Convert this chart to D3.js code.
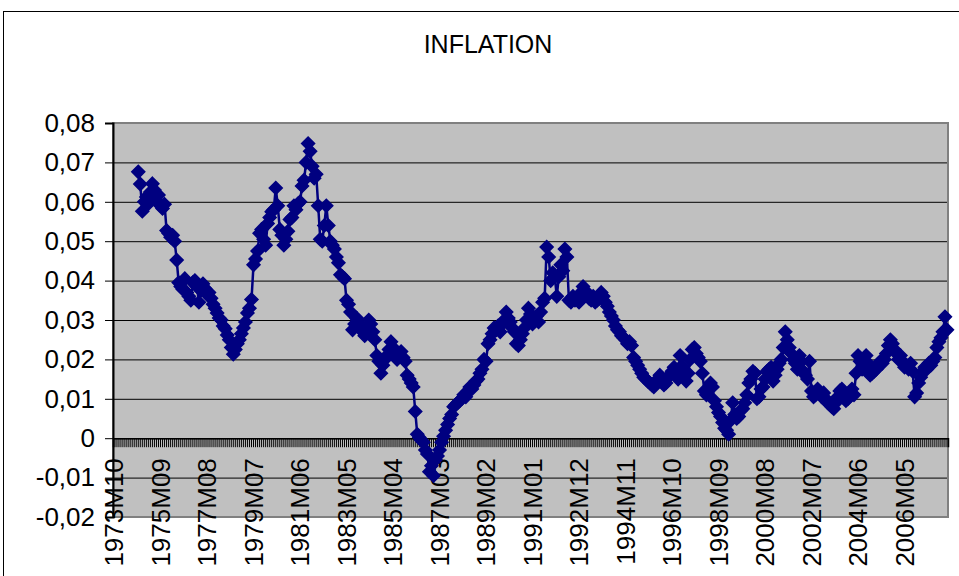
<!DOCTYPE html>
<html>
<head>
<meta charset="utf-8">
<script src="https://cdn.jsdelivr.net/npm/d3@7"></script>
<style>
  html, body { margin: 0; padding: 0; background: #ffffff; }
  svg { display: block; }
  text { font-family: Arial, "Liberation Sans", sans-serif; }
</style>
</head>
<body>
<svg id="chart" width="959" height="576"></svg>
<script>
// ---- data ----
const chartTitle = "INFLATION";
const firstCategory = { year: 1973, month: 10 };
const categoryCount = 413;          // 1973M10 .. 2008M02
const firstDataIndex = 12;          // series starts at 1974M10
const labelEvery = 23;
const yTicks = [-0.02, -0.01, 0, 0.01, 0.02, 0.03, 0.04, 0.05, 0.06, 0.07, 0.08];

const inflation = [
  // 1974 (Oct-Dec)
  0.0676, 0.0645, 0.0576,
  // 1975
  0.0600, 0.0612, 0.0595, 0.0625, 0.0646, 0.0630, 0.0604, 0.0617, 0.0590, 0.0583, 0.0594, 0.0527,
  // 1976
  0.0520, 0.0510, 0.0515, 0.0500, 0.0452, 0.0395, 0.0385, 0.0378, 0.0405, 0.0370, 0.0360, 0.0350,
  // 1977
  0.0395, 0.0400, 0.0385, 0.0345, 0.0375, 0.0392, 0.0380, 0.0365, 0.0370, 0.0355, 0.0340, 0.0330,
  // 1978
  0.0318, 0.0305, 0.0300, 0.0285, 0.0278, 0.0262, 0.0250, 0.0230, 0.0213, 0.0225, 0.0240, 0.0250,
  // 1979
  0.0265, 0.0280, 0.0295, 0.0318, 0.0330, 0.0352, 0.0440, 0.0455, 0.0475, 0.0520, 0.0530, 0.0505,
  // 1980
  0.0490, 0.0545, 0.0560, 0.0575, 0.0580, 0.0635, 0.0590, 0.0530, 0.0515, 0.0490, 0.0505, 0.0525,
  // 1981
  0.0555, 0.0560, 0.0590, 0.0580, 0.0595, 0.0600, 0.0640, 0.0655, 0.0700, 0.0748, 0.0728, 0.0690,
  // 1982
  0.0660, 0.0670, 0.0590, 0.0505, 0.0500, 0.0540, 0.0590, 0.0540, 0.0500, 0.0490, 0.0480, 0.0460,
  // 1983
  0.0445, 0.0415, 0.0410, 0.0405, 0.0350, 0.0340, 0.0320, 0.0275, 0.0290, 0.0305, 0.0290, 0.0285,
  // 1984
  0.0270, 0.0260, 0.0280, 0.0300, 0.0290, 0.0270, 0.0250, 0.0210, 0.0195, 0.0165, 0.0185, 0.0200,
  // 1985
  0.0210, 0.0225, 0.0245, 0.0230, 0.0215, 0.0200, 0.0210, 0.0220, 0.0205, 0.0195, 0.0160, 0.0150,
  // 1986
  0.0140, 0.0130, 0.0068, 0.0010, 0.0002, -0.0005, -0.0010, -0.0030, -0.0040, -0.0085, -0.0070, -0.0095,
  // 1987
  -0.0055, -0.0045, -0.0030, -0.0010, 0.0005, 0.0020, 0.0035, 0.0050, 0.0060, 0.0080, 0.0085, 0.0090,
  // 1988
  0.0095, 0.0100, 0.0110, 0.0105, 0.0120, 0.0130, 0.0125, 0.0135, 0.0145, 0.0150, 0.0165, 0.0175,
  // 1989
  0.0200, 0.0195, 0.0240, 0.0250, 0.0265, 0.0280, 0.0275, 0.0285, 0.0270, 0.0290, 0.0300, 0.0320,
  // 1990
  0.0305, 0.0295, 0.0280, 0.0270, 0.0240, 0.0235, 0.0250, 0.0265, 0.0280, 0.0300, 0.0330, 0.0315,
  // 1991
  0.0290, 0.0300, 0.0310, 0.0295, 0.0320, 0.0345, 0.0355, 0.0485, 0.0460, 0.0400, 0.0420, 0.0410,
  // 1992
  0.0360, 0.0410, 0.0440, 0.0425, 0.0480, 0.0460, 0.0350, 0.0345, 0.0360, 0.0350, 0.0355, 0.0345,
  // 1993
  0.0370, 0.0385, 0.0375, 0.0365, 0.0355, 0.0350, 0.0360, 0.0345, 0.0350, 0.0355, 0.0370, 0.0360,
  // 1994
  0.0345, 0.0335, 0.0320, 0.0310, 0.0300, 0.0285, 0.0275, 0.0270, 0.0260, 0.0255, 0.0250, 0.0240,
  // 1995
  0.0245, 0.0235, 0.0205, 0.0195, 0.0185, 0.0175, 0.0165, 0.0155, 0.0150, 0.0145, 0.0140, 0.0135,
  // 1996
  0.0130, 0.0140, 0.0150, 0.0160, 0.0145, 0.0135, 0.0140, 0.0155, 0.0160, 0.0170, 0.0180, 0.0165,
  // 1997
  0.0150, 0.0210, 0.0185, 0.0170, 0.0145, 0.0165, 0.0200, 0.0225, 0.0230, 0.0215, 0.0205, 0.0195,
  // 1998
  0.0165, 0.0120, 0.0110, 0.0125, 0.0140, 0.0130, 0.0095, 0.0080, 0.0065, 0.0055, 0.0040, 0.0025,
  // 1999
  0.0020, 0.0010, 0.0045, 0.0090, 0.0060, 0.0050, 0.0055, 0.0070, 0.0075, 0.0090, 0.0110, 0.0140,
  // 2000
  0.0150, 0.0170, 0.0165, 0.0100, 0.0105, 0.0125, 0.0130, 0.0150, 0.0170, 0.0175, 0.0180, 0.0145,
  // 2001
  0.0160, 0.0175, 0.0190, 0.0200, 0.0230, 0.0270, 0.0250, 0.0230, 0.0215, 0.0200, 0.0190, 0.0175,
  // 2002
  0.0210, 0.0195, 0.0170, 0.0160, 0.0150, 0.0195, 0.0120, 0.0105, 0.0110, 0.0125, 0.0115, 0.0105,
  // 2003
  0.0115, 0.0100, 0.0090, 0.0085, 0.0080, 0.0075, 0.0090, 0.0105, 0.0120, 0.0125, 0.0110, 0.0095,
  // 2004
  0.0100, 0.0115, 0.0125, 0.0110, 0.0165, 0.0210, 0.0195, 0.0175, 0.0185, 0.0210, 0.0190, 0.0160,
  // 2005
  0.0165, 0.0170, 0.0175, 0.0185, 0.0195, 0.0190, 0.0200, 0.0215, 0.0235, 0.0250, 0.0240, 0.0225,
  // 2006
  0.0215, 0.0200, 0.0210, 0.0195, 0.0180, 0.0185, 0.0175, 0.0190, 0.0170, 0.0105, 0.0115, 0.0140,
  // 2007
  0.0155, 0.0170, 0.0180, 0.0175, 0.0190, 0.0185, 0.0195, 0.0205, 0.0230, 0.0245, 0.0255, 0.0270,
  // 2008
  0.0308, 0.0275
];

// ---- categories (monthly labels) ----
const categories = d3.range(categoryCount).map(i => {
  const t = firstCategory.year * 12 + (firstCategory.month - 1) + i;
  return Math.floor(t / 12) + "M" + String(t % 12 + 1).padStart(2, "0");
});
const points = inflation.map((v, i) => ({ cat: categories[firstDataIndex + i], v }));

// ---- layout ----
const plot = { left: 113, right: 948, top: 123, bottom: 517 };
const svg = d3.select("#chart");

// outer chart frame
svg.append("rect")
  .attr("x", 3.5).attr("y", 11.5)
  .attr("width", 1000).attr("height", 700)
  .attr("fill", "#ffffff").attr("stroke", "#000000").attr("stroke-width", 1);

// title
svg.append("text")
  .attr("x", 488).attr("y", 53)
  .attr("text-anchor", "middle")
  .attr("font-size", 25)
  .attr("fill", "#000")
  .text(chartTitle);

const x = d3.scaleBand().domain(categories).range([plot.left, plot.right]).paddingInner(0).paddingOuter(0);
const y = d3.scaleLinear().domain([-0.02, 0.08]).range([plot.bottom, plot.top]);
const bw = x.bandwidth();
const cx = c => x(c) + bw / 2;

// plot area background
svg.append("rect")
  .attr("x", plot.left).attr("y", plot.top)
  .attr("width", plot.right - plot.left).attr("height", plot.bottom - plot.top)
  .attr("fill", "#c0c0c0");

// gridlines
const grid = svg.append("g")
  .attr("transform", `translate(${plot.left},0)`)
  .call(d3.axisLeft(y).tickValues(yTicks.filter(t => t > -0.02 && t < 0.08)).tickSize(-(plot.right - plot.left)).tickFormat(""));
grid.select(".domain").remove();
grid.selectAll(".tick line").attr("stroke", "#000").attr("stroke-width", 1);

// plot border
svg.append("rect")
  .attr("x", plot.left).attr("y", plot.top)
  .attr("width", plot.right - plot.left).attr("height", plot.bottom - plot.top)
  .attr("fill", "none").attr("stroke", "#808080").attr("stroke-width", 2);

// y axis
const fmt = v => {
  if (Math.abs(v) < 1e-9) return "0";
  return d3.format(".2f")(v).replace(".", ",").replace("−", "-");
};
const yAxis = svg.append("g")
  .attr("transform", `translate(${plot.left},0)`)
  .call(d3.axisLeft(y).tickValues(yTicks).tickSize(8).tickPadding(10).tickFormat(fmt));
yAxis.select(".domain").attr("stroke", "#000").attr("stroke-width", 2);
yAxis.selectAll(".tick line").attr("stroke", "#000");
yAxis.selectAll("text").attr("font-size", 26).attr("fill", "#000")
  .attr("font-family", "Arial, 'Liberation Sans', sans-serif");

// x axis (at y = 0) with a tick mark for every month
const xTicksAxis = svg.append("g")
  .attr("transform", `translate(0,${y(0)})`)
  .call(d3.axisBottom(x).tickSize(9).tickFormat(""));
xTicksAxis.select(".domain").attr("stroke", "#000").attr("stroke-width", 1.5);
xTicksAxis.selectAll(".tick line").attr("stroke", "#000").attr("stroke-width", 1);

// x labels every 23 months
const xLabels = svg.append("g")
  .attr("transform", `translate(0,${y(0)})`)
  .call(d3.axisBottom(x).tickValues(categories.filter((c, i) => i % labelEvery === 0)).tickSize(0));
xLabels.select(".domain").remove();
xLabels.selectAll("text")
  .attr("font-size", 26).attr("fill", "#000")
  .attr("font-family", "Arial, 'Liberation Sans', sans-serif")
  .attr("transform", "rotate(-90)")
  .attr("text-anchor", "end")
  .attr("x", -20).attr("y", 0).attr("dy", "0.36em");

// series line
const line = d3.line().x(d => cx(d.cat)).y(d => y(d.v));
svg.append("path")
  .datum(points)
  .attr("d", line)
  .attr("fill", "none")
  .attr("stroke", "#000080")
  .attr("stroke-width", 2.5);

// diamond markers
const diamond = "M0,-6.5L6.5,0L0,6.5L-6.5,0Z";
svg.append("g").selectAll("path")
  .data(points)
  .join("path")
  .attr("transform", d => `translate(${cx(d.cat)},${y(d.v)})`)
  .attr("d", diamond)
  .attr("fill", "#000080")
  .attr("stroke", "#000080")
  .attr("stroke-width", 1.5);
</script>
</body>
</html>
